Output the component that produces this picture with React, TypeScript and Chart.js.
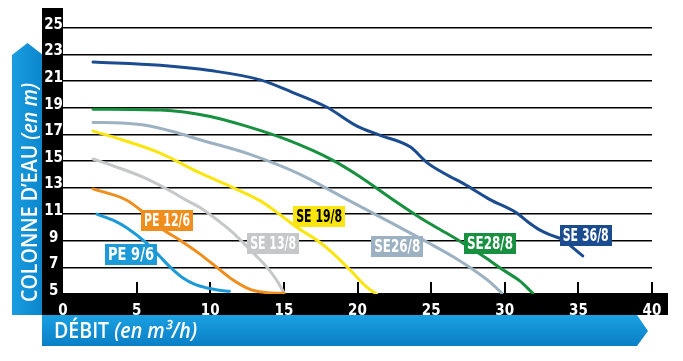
import React, { useEffect, useRef } from 'react';
import { Chart, registerables } from 'chart.js';

Chart.register(...registerables);

// ---- data ----
const xMin = 0;
const xMax = 40;
const xStep = 5;
const yMin = 5;
const yMax = 25;
const yStep = 2;

const pe96X = [2.3, 3.5, 4.3, 5.7, 6.6, 7.3, 8.15, 9.0, 9.8, 10.5, 11.3];
const pe96Y = [11.0, 10.5, 10.0, 8.8, 7.8, 7.0, 6.2, 5.7, 5.45, 5.3, 5.2];

const pe126X = [2.04, 4.3, 5.5, 6.6, 8.0, 9.3, 10.45, 11.55, 12.7, 13.7, 15.0];
const pe126Y = [12.9, 12.07, 11.1, 10.0, 9.0, 8.0, 7.0, 6.05, 5.35, 5.12, 5.05];

const se138X = [2.04, 3.5, 5.4, 7.2, 8.3, 9.3, 10.67, 11.55, 12.2, 13.0, 13.86, 14.5, 15.0];
const se138Y = [15.15, 14.6, 13.8, 12.8, 12.1, 11.5, 10.4, 9.6, 8.9, 8.0, 7.0, 6.05, 5.1];

const se198X = [2.04, 4.0, 6.6, 9.3, 11.55, 13.4, 14.7, 15.9, 17.3, 18.3, 19.5, 20.65, 21.3];
const se198Y = [17.25, 16.6, 15.6, 14.1, 13.0, 12.0, 11.0, 10.0, 9.0, 8.1, 6.8, 5.5, 5.0];

const se268X = [2.04, 4.0, 5.5, 7.5, 9.3, 12.7, 16.1, 18.8, 22.2, 24.9, 26.5, 27.9, 29.0, 29.8];
const se268Y = [17.9, 17.85, 17.7, 17.2, 16.6, 15.5, 14.0, 12.4, 10.4, 8.8, 7.8, 6.8, 5.9, 5.07];

const se288X = [2.04, 6.6, 10.0, 12.5, 15.2, 18.3, 20.2, 22.0, 24.5, 26.0, 27.2, 28.6, 29.9, 31.0, 31.9];
const se288Y = [18.9, 18.83, 18.35, 17.6, 16.6, 15.07, 13.8, 12.4, 10.56, 9.6, 8.8, 7.8, 6.8, 6.0, 5.07];

const se368X = [2.04, 6.6, 10.0, 13.4, 15.5, 17.9, 20.0, 21.5, 23.6, 24.7, 26.0, 27.2, 29.0, 30.8, 31.6, 32.4, 33.2, 34.0, 34.6, 35.3];
const se368Y = [22.44, 22.2, 21.8, 21.1, 20.2, 19.06, 17.6, 16.95, 16.05, 14.9, 14.0, 13.3, 12.1, 11.1, 10.4, 9.8, 9.4, 9.06, 8.5, 7.86];

const seriesNames = ['PE 9/6', 'PE 12/6', 'SE 13/8', 'SE 19/8', 'SE26/8', 'SE28/8', 'SE 36/8'];
const seriesX = [pe96X, pe126X, se138X, se198X, se268X, se288X, se368X];
const seriesY = [pe96Y, pe126Y, se138Y, se198Y, se268Y, se288Y, se368Y];

// label anchor (centre) of each series name, in data units
const labelX = [4.62, 7.07, 14.27, 17.4, 22.7, 29.0, 35.5];
const labelY = [8.0, 10.49, 8.76, 10.79, 8.6, 8.76, 9.4];

const yTitleMain = 'COLONNE D\u2019EAU ';
const yTitleUnit = '(en m)';
const xTitleMain = 'D\u00c9BIT ';
const xTitleUnit = '(en m\u00b3/h)';

// ---- styles ----
const colors = ['#1b9ad7', '#ef8d1d', '#c6c7c8', '#fbe511', '#9cb2c3', '#17903f', '#1b4c90'];
const labelTextColors = ['#fff', '#fff', '#fff', '#000', '#fff', '#fff', '#fff'];
const COND = "'Liberation Sans Narrow', 'DejaVu Sans Condensed', 'Roboto Condensed', sans-serif";
const TITLE = "'Open Sans', 'Noto Sans', sans-serif";

function fitText(ctx: CanvasRenderingContext2D, text: string, cx: number, cy: number, maxW: number) {
  const w = ctx.measureText(text).width;
  const s = w > maxW ? maxW / w : 1;
  ctx.save();
  ctx.translate(cx, cy);
  ctx.scale(s, 1);
  ctx.fillText(text, 0, 0);
  ctx.restore();
}

function drawTitle(ctx: CanvasRenderingContext2D, main: string, unit: string, size: number, targetW: number) {
  ctx.font = `600 ${size}px ${TITLE}`;
  const w1 = ctx.measureText(main).width;
  ctx.font = `italic 600 ${size}px ${TITLE}`;
  const w2 = ctx.measureText(unit).width;
  const s = targetW / (w1 + w2);
  ctx.save();
  ctx.scale(s, 1);
  ctx.textAlign = 'left';
  ctx.textBaseline = 'alphabetic';
  ctx.font = `600 ${size}px ${TITLE}`;
  ctx.fillText(main, 0, 0);
  ctx.font = `italic 600 ${size}px ${TITLE}`;
  ctx.fillText(unit, w1, 0);
  ctx.restore();
}

const decorPlugin = {
  id: 'decor',
  beforeDraw(chart: any) {
    const ctx: CanvasRenderingContext2D = chart.ctx;
    const a = chart.chartArea;
    ctx.save();
    ctx.fillStyle = '#fff';
    ctx.fillRect(0, 0, chart.width, chart.height);

    // left blue band with arrow
    const gl = ctx.createLinearGradient(12, 0, 43, 0);
    gl.addColorStop(0, '#1a9ce0');
    gl.addColorStop(1, '#0b86cc');
    ctx.fillStyle = gl;
    ctx.beginPath();
    ctx.moveTo(12, a.bottom + 21);
    ctx.lineTo(12, 55);
    ctx.lineTo(27.5, 43);
    ctx.lineTo(43, 55);
    ctx.lineTo(43, a.bottom + 21);
    ctx.closePath();
    ctx.fill();

    // bottom blue band with arrow
    const gb = ctx.createLinearGradient(0, a.bottom + 21, 0, a.bottom + 52);
    gb.addColorStop(0, '#1ba0e2');
    gb.addColorStop(1, '#0a7fc6');
    ctx.fillStyle = gb;
    ctx.beginPath();
    ctx.moveTo(42, a.bottom + 21);
    ctx.lineTo(637, a.bottom + 21);
    ctx.lineTo(648, a.bottom + 37);
    ctx.lineTo(637, a.bottom + 52);
    ctx.lineTo(42, a.bottom + 52);
    ctx.closePath();
    ctx.fill();

    // black axis bars
    ctx.fillStyle = '#000';
    ctx.fillRect(42, 8, a.left - 42, a.bottom + 21 - 8);
    ctx.fillRect(42, a.bottom - 1, 668 - 42, 22);

    // titles
    ctx.fillStyle = '#fff';
    ctx.save();
    ctx.translate(37, 302);
    ctx.rotate(-Math.PI / 2);
    drawTitle(ctx, yTitleMain, yTitleUnit, 22, 219);
    ctx.restore();
    ctx.save();
    ctx.translate(54, 338);
    drawTitle(ctx, xTitleMain, xTitleUnit, 21, 143);
    ctx.restore();
    ctx.restore();
  },
  beforeDatasetsDraw(chart: any) {
    const ctx: CanvasRenderingContext2D = chart.ctx;
    const a = chart.chartArea;
    const xs = chart.scales.x;
    ctx.save();
    ctx.strokeStyle = '#000';
    ctx.lineWidth = 2;
    xs.ticks.forEach((t: any) => {
      if (t.value <= xMin) return;
      const px = Math.round(xs.getPixelForValue(t.value));
      ctx.beginPath();
      ctx.moveTo(px, a.bottom);
      ctx.lineTo(px, a.bottom - 12);
      ctx.stroke();
    });
    ctx.restore();
  },
  afterDatasetsDraw(chart: any) {
    const ctx: CanvasRenderingContext2D = chart.ctx;
    const xs = chart.scales.x;
    const ys = chart.scales.y;
    ctx.save();
    ctx.font = `bold 17px ${COND}`;
    ctx.textAlign = 'center';
    ctx.textBaseline = 'middle';
    seriesNames.forEach((name, i) => {
      const cx = xs.getPixelForValue(labelX[i]);
      const cy = ys.getPixelForValue(labelY[i]);
      const w = 52;
      const h = 21;
      ctx.fillStyle = colors[i];
      ctx.fillRect(Math.round(cx - w / 2), Math.round(cy - h / 2), w, h);
      ctx.fillStyle = labelTextColors[i];
      fitText(ctx, name, cx, cy + 1, w - 6);
    });
    ctx.restore();
  },
};

export default function App() {
  const ref = useRef<HTMLCanvasElement>(null);
  useEffect(() => {
    if (!ref.current) return;
    const datasets = seriesNames.map((name, i) => ({
      label: name,
      data: seriesX[i].map((x, j) => ({ x, y: seriesY[i][j] })),
      borderColor: colors[i],
      borderWidth: 3,
      pointRadius: 0,
      fill: false,
      cubicInterpolationMode: 'monotone' as const,
      borderCapStyle: 'round' as const,
    }));
    const chart = new Chart(ref.current, {
      type: 'line',
      data: { datasets },
      plugins: [decorPlugin],
      options: {
        responsive: false,
        animation: false,
        devicePixelRatio: 1,
        layout: { padding: { left: 42, right: 31, top: 28, bottom: 45 } },
        plugins: { legend: { display: false }, tooltip: { enabled: false } },
        scales: {
          x: {
            type: 'linear',
            min: xMin,
            max: xMax,
            ticks: {
              stepSize: xStep,
              color: '#fff',
              padding: 0,
              maxRotation: 0,
              font: { family: COND, weight: 'bold', size: 15 },
            },
            grid: { display: false },
            border: { display: false },
            afterFit: (s: any) => { s.height = 22; },
          },
          y: {
            type: 'linear',
            min: yMin,
            max: yMax,
            ticks: {
              stepSize: yStep,
              color: '#fff',
              padding: 0,
              crossAlign: 'center',
              labelOffset: -3,
              font: { family: COND, weight: 'bold', size: 15 },
            },
            grid: { color: '#000', lineWidth: 1.5, drawTicks: false },
            border: { display: false },
            afterFit: (s: any) => { s.width = 21; },
          },
        },
      },
    });
    return () => chart.destroy();
  }, []);
  return (
    <div style={{ position: 'absolute', left: 0, top: 0, width: 683, height: 361, background: '#fff' }}>
      <canvas ref={ref} width={683} height={361} style={{ width: 683, height: 361, display: 'block' }} />
    </div>
  );
}
